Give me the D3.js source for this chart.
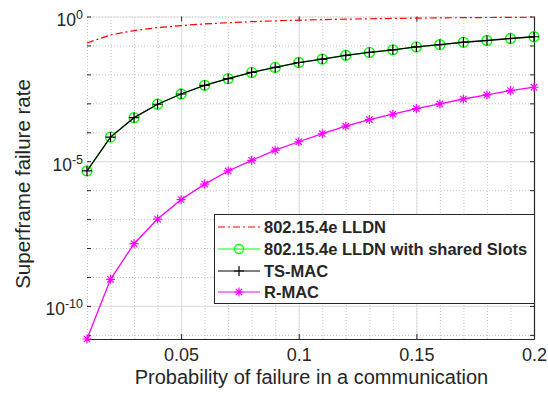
<!DOCTYPE html>
<html>
<head>
<meta charset="utf-8">
<script src="https://cdn.jsdelivr.net/npm/d3@7"></script>
<style>
  body { margin: 0; background: #fff; }
  text { font-family: "Liberation Sans", Arial, sans-serif; fill: #262626; }
</style>
</head>
<body>
<div id="chart"></div>
<script>
//===============================
//  1.  Data
//===============================

var probs = [0.01, 0.02, 0.03, 0.04, 0.05, 0.06, 0.07, 0.08, 0.09, 0.10,
             0.11, 0.12, 0.13, 0.14, 0.15, 0.16, 0.17, 0.18, 0.19, 0.20];

var lldn = [0.122, 0.231, 0.327, 0.412, 0.487, 0.553, 0.611, 0.662, 0.707, 0.746,
            0.780, 0.810, 0.836, 0.859, 0.879, 0.896, 0.911, 0.924, 0.935, 0.945];

var lldnShared = [4.6e-6, 6.8e-5, 3.2e-4, 9.3e-4, 2.1e-3, 4.2e-3, 7.1e-3, 0.0117, 0.0174, 0.0257,
                  0.0339, 0.0457, 0.0575, 0.0708, 0.0891, 0.107, 0.129, 0.148, 0.174, 0.200];

var tsmac = [4.6e-6, 6.8e-5, 3.2e-4, 9.3e-4, 2.1e-3, 4.2e-3, 7.1e-3, 0.0117, 0.0174, 0.0257,
             0.0339, 0.0457, 0.0575, 0.0708, 0.0891, 0.107, 0.129, 0.148, 0.174, 0.200];

var rmac = [7.2e-12, 8.3e-10, 1.41e-8, 1.0e-7, 4.7e-7, 1.62e-6, 4.6e-6, 1.07e-5, 2.4e-5, 4.7e-5,
            8.9e-5, 1.62e-4, 2.75e-4, 4.2e-4, 6.6e-4, 9.5e-4, 1.41e-3, 1.95e-3, 2.75e-3, 3.6e-3];

var seriesNames = ["802.15.4e LLDN", "802.15.4e LLDN with shared Slots", "TS-MAC", "R-MAC"];

var xTicks = [0.05, 0.1, 0.15, 0.2];
var yMajor = [1e-10, 1e-5, 1];
var yMinor = [1e-11, 1e-10, 1e-9, 1e-8, 1e-7, 1e-6, 1e-5, 1e-4, 1e-3, 1e-2, 1e-1, 1];
var yExps = ["-10", "-5", "0"];

//===============================
//  2.  Set up Charted Area
//===============================

var svgWidth = 548;
var svgHeight = 396;

var chartMargin = { top: 16.5, right: 14, bottom: 57, left: 87 };

var chartWidth = svgWidth - chartMargin.left - chartMargin.right;
var chartHeight = svgHeight - chartMargin.top - chartMargin.bottom;

var svg = d3.select("#chart")
  .append("svg")
  .attr("width", svgWidth)
  .attr("height", svgHeight);

var chartGroup = svg.append("g")
  .attr("transform", `translate(${chartMargin.left}, ${chartMargin.top})`);

// scales
var xScale = d3.scaleLinear()
  .domain([0.01, 0.2])
  .range([0, chartWidth]);

var yScale = d3.scaleLog()
  .domain([7.2e-12, 1])
  .range([chartHeight, 0]);

//===============================
//  3.  Grid lines
//===============================

// minor (dotted) grid
chartGroup.append("g")
  .attr("class", "grid-minor")
  .attr("transform", `translate(0, ${chartHeight})`)
  .call(d3.axisBottom(xScale).tickValues(probs).tickSize(-chartHeight).tickFormat(""))
  .call(g => g.select(".domain").remove());

chartGroup.append("g")
  .attr("class", "grid-minor")
  .call(d3.axisLeft(yScale).tickValues(yMinor).tickSize(-chartWidth).tickFormat(""))
  .call(g => g.select(".domain").remove());

chartGroup.selectAll(".grid-minor line")
  .attr("stroke", "#b8b8b8")
  .attr("stroke-width", 0.8)
  .attr("stroke-dasharray", "1,2");

// major (solid) grid
chartGroup.append("g")
  .attr("class", "grid-major")
  .attr("transform", `translate(0, ${chartHeight})`)
  .call(d3.axisBottom(xScale).tickValues(xTicks).tickSize(-chartHeight).tickFormat(""))
  .call(g => g.select(".domain").remove());

chartGroup.append("g")
  .attr("class", "grid-major")
  .call(d3.axisLeft(yScale).tickValues(yMajor).tickSize(-chartWidth).tickFormat(""))
  .call(g => g.select(".domain").remove());

chartGroup.selectAll(".grid-major line")
  .attr("stroke", "#dedede")
  .attr("stroke-width", 1);

//===============================
//  4.  Axes
//===============================

// bottom axis with labels
var xAxis = chartGroup.append("g")
  .attr("transform", `translate(0, ${chartHeight})`)
  .call(d3.axisBottom(xScale).tickValues(xTicks).tickSizeInner(-5).tickSizeOuter(0)
        .tickPadding(9).tickFormat(d3.format("")));

xAxis.select(".domain").attr("stroke", "#262626").attr("stroke-width", 1.2);
xAxis.selectAll("line").attr("stroke", "#262626");
xAxis.selectAll("text")
  .attr("font-size", "18px")
  .attr("fill", "#262626")
  .style("font-family", "Liberation Sans, Arial, sans-serif");

// top ticks
chartGroup.append("g")
  .call(d3.axisTop(xScale).tickValues(xTicks).tickSizeInner(-5).tickSizeOuter(0).tickFormat(""))
  .call(g => g.select(".domain").remove())
  .selectAll("line").attr("stroke", "#262626");

// left ticks (each decade)
chartGroup.append("g")
  .call(d3.axisLeft(yScale).tickValues(yMinor).tickSizeInner(-4).tickSizeOuter(0).tickFormat(""))
  .call(g => g.select(".domain").remove())
  .selectAll("line").attr("stroke", "#262626");

// right axis line and ticks
chartGroup.append("g")
  .attr("transform", `translate(${chartWidth}, 0)`)
  .call(d3.axisRight(yScale).tickValues(yMinor).tickSizeInner(-4).tickSizeOuter(0).tickFormat(""))
  .call(g => g.select(".domain").attr("stroke", "#262626").attr("stroke-width", 1.2))
  .selectAll("line").attr("stroke", "#262626");

// left y labels as 10^n
var yLabels = chartGroup.append("g")
  .call(d3.axisLeft(yScale).tickValues(yMajor).tickSize(0).tickPadding(5).tickFormat(""))
  .call(g => g.select(".domain").remove());

yLabels.selectAll(".tick text")
  .attr("dy", "9")
  .attr("x", -4)
  .attr("fill", "#262626")
  .style("font-family", "Liberation Sans, Arial, sans-serif")
  .attr("font-size", "17.5px")
  .each(function(d, i) {
    var t = d3.select(this);
    t.append("tspan").text("10");
    t.append("tspan")
      .attr("dy", "-7")
      .attr("font-size", "12.5px")
      .text(yExps[i]);
  });

// axis titles
chartGroup.append("text")
  .attr("transform", "rotate(-90)")
  .attr("x", -(184 - chartMargin.top))
  .attr("y", 30 - chartMargin.left)
  .attr("text-anchor", "middle")
  .attr("font-size", "20.5px")
  .text("Superframe failure rate");

chartGroup.append("text")
  .attr("x", 311.5 - chartMargin.left)
  .attr("y", 384 - chartMargin.top)
  .attr("text-anchor", "middle")
  .attr("font-size", "20px")
  .text("Probability of failure in a communication");

//===============================
//  5.  Lines and markers
//===============================

var line = d3.line()
  .x((d, i) => xScale(probs[i]))
  .y(d => yScale(d));

var plusPath = "M-5,0H5M0,-5V5";
var starPath = "M-4.5,0H4.5M0,-4.5V4.5M-3.2,-3.2L3.2,3.2M-3.2,3.2L3.2,-3.2";

// LLDN
chartGroup.append("path")
  .datum(lldn)
  .attr("d", line)
  .attr("fill", "none")
  .attr("stroke", "#ff0000")
  .attr("stroke-width", 1.2)
  .attr("stroke-dasharray", "7,3,2,3");

// LLDN with shared slots
chartGroup.append("path")
  .datum(lldnShared)
  .attr("d", line)
  .attr("fill", "none")
  .attr("stroke", "#00ff00")
  .attr("stroke-width", 1.2);

chartGroup.selectAll(".greenDot")
  .data(lldnShared)
  .enter()
  .append("circle")
  .attr("cx", (d, i) => xScale(probs[i]))
  .attr("cy", d => yScale(d))
  .attr("r", 5)
  .attr("fill", "none")
  .attr("stroke", "#00ff00")
  .attr("stroke-width", 1.3);

// TS-MAC
chartGroup.append("path")
  .datum(tsmac)
  .attr("d", line)
  .attr("fill", "none")
  .attr("stroke", "#000")
  .attr("stroke-width", 1.3);

chartGroup.selectAll(".plusMark")
  .data(tsmac)
  .enter()
  .append("path")
  .attr("transform", (d, i) => `translate(${xScale(probs[i])}, ${yScale(d)})`)
  .attr("d", plusPath)
  .attr("stroke", "#000")
  .attr("stroke-width", 1.2);

// R-MAC
chartGroup.append("path")
  .datum(rmac)
  .attr("d", line)
  .attr("fill", "none")
  .attr("stroke", "#ff00ff")
  .attr("stroke-width", 1.3);

chartGroup.selectAll(".starMark")
  .data(rmac)
  .enter()
  .append("path")
  .attr("transform", (d, i) => `translate(${xScale(probs[i])}, ${yScale(d)})`)
  .attr("d", starPath)
  .attr("stroke", "#ff00ff")
  .attr("stroke-width", 1.2);

//===============================
//  6.  Legend
//===============================

var legend = svg.append("g").attr("transform", "translate(214, 214)");

legend.append("rect")
  .attr("x", 0.5)
  .attr("y", 0.5)
  .attr("width", 320)
  .attr("height", 89)
  .attr("fill", "#fff")
  .attr("stroke", "#262626")
  .attr("stroke-width", 1);

var rowY = [13, 35, 57, 78];
var legendColors = ["#ff0000", "#00ff00", "#000", "#ff00ff"];

seriesNames.forEach((name, i) => {
  var row = legend.append("g").attr("transform", `translate(0, ${rowY[i]})`);
  var ln = row.append("line")
    .attr("x1", 4).attr("x2", 46)
    .attr("y1", 0).attr("y2", 0)
    .attr("stroke", legendColors[i])
    .attr("stroke-width", 1.2);
  if (i === 0) ln.attr("stroke-dasharray", "7,3,2,3");
  if (i === 1) {
    row.append("circle").attr("cx", 25).attr("cy", 0).attr("r", 4.5)
      .attr("fill", "none").attr("stroke", legendColors[i]).attr("stroke-width", 1.3);
  }
  if (i === 2) {
    row.append("path").attr("transform", "translate(25,0)").attr("d", plusPath)
      .attr("stroke", legendColors[i]).attr("stroke-width", 1.2);
  }
  if (i === 3) {
    row.append("path").attr("transform", "translate(25,0)").attr("d", starPath)
      .attr("stroke", legendColors[i]).attr("stroke-width", 1.2);
  }
  row.append("text")
    .attr("x", 50)
    .attr("y", 6)
    .attr("font-size", "16.5px")
    .attr("font-weight", "bold")
    .attr("fill", "#000")
    .text(name);
});
</script>
</body>
</html>
